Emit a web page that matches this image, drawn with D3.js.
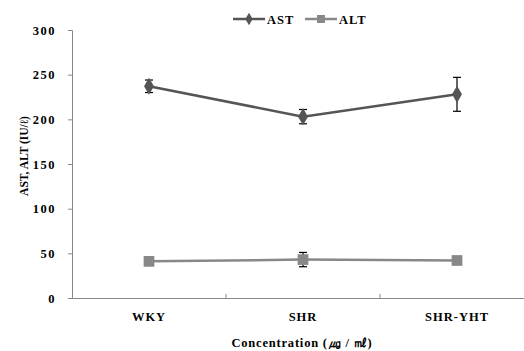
<!DOCTYPE html>
<html><head><meta charset="utf-8">
<script src="https://cdn.jsdelivr.net/npm/d3@7"></script>
<style>body{margin:0;background:#fff}svg{display:block}</style>
</head><body><svg id="c" width="524" height="351"></svg>
<script>
const categories = ["WKY", "SHR", "SHR-YHT"];
const astValues = [237, 203, 228];
const astErrors = [7, 8, 19];
const altValues = [41, 43, 42];
const altErrors = [0, 8, 0];
const yTicks = [0, 50, 100, 150, 200, 250, 300];
const seriesNames = ["AST", "ALT"];

const FONT = '"Liberation Serif", "Times New Roman", Times, serif';
const svg = d3.select("#c");
const x = d3.scaleBand().domain(categories).range([72, 534]);
const y = d3.scaleLinear().domain([0, 300]).range([298, 30]);
const axisColor = "#888";
const styleText = (sel, fs) => sel.style("font-family", FONT).style("font-weight", "bold").style("font-size", (fs || 12.5) + "px").style("fill", "#000");

// y axis
const ya = svg.append("g").attr("transform", "translate(72,0)")
  .call(d3.axisLeft(y).tickValues(yTicks).tickSize(4).tickSizeOuter(4).tickPadding(12));
ya.selectAll("path,line").attr("stroke", axisColor);
styleText(ya.selectAll("text")).attr("letter-spacing", "1.5px");

// x axis
const xa = svg.append("g").attr("transform", "translate(0,298)")
  .call(d3.axisBottom(x).tickSize(0).tickPadding(14));
xa.select("path").attr("stroke", axisColor);
styleText(xa.selectAll("text")).attr("letter-spacing", "1px");
xa.selectAll("line.bnd").data(categories.slice(1)).enter().append("line").attr("class","bnd")
  .attr("x1", d => x(d)).attr("x2", d => x(d)).attr("y1", 0).attr("y2", -4).attr("stroke", axisColor);

// axis titles
styleText(svg.append("text").attr("transform", "translate(28,156) rotate(-90)").attr("text-anchor", "middle")
  .text("AST, ALT (IU/ℓ)"), 11.5);
styleText(svg.append("text").attr("x", 302).attr("y", 347).attr("text-anchor", "middle")
  .attr("letter-spacing","0.8px").text("Concentration (㎍ / ㎖)"));

const cx = d => x(d) + x.bandwidth() / 2;
const series = [
  {name: seriesNames[0], vals: astValues, errs: astErrors, color: "#555", sym: d3.symbolDiamond, size: 85},
  {name: seriesNames[1], vals: altValues, errs: altErrors, color: "#888", sym: d3.symbolSquare, size: 115}
];
const line = d3.line().x((d, i) => cx(categories[i])).y(d => y(d));
series.forEach(s => {
  const g = svg.append("g");
  g.append("path").attr("d", line(s.vals)).attr("fill", "none").attr("stroke", s.color).attr("stroke-width", 2.5);
  s.vals.forEach((v, i) => {
    const e = s.errs[i];
    if (e > 0) {
      const px = cx(categories[i]);
      g.append("line").attr("x1", px).attr("x2", px).attr("y1", y(v + e)).attr("y2", y(v - e)).attr("stroke", "#666").attr("stroke-width", 2);
      [v + e, v - e].forEach(t => g.append("line").attr("x1", px - 4).attr("x2", px + 4).attr("y1", y(t)).attr("y2", y(t)).attr("stroke", "#000").attr("stroke-width", 1.2));
    }
  });
  g.selectAll("path.m").data(s.vals).enter().append("path").attr("class", "m")
    .attr("d", d3.symbol().type(s.sym).size(s.size))
    .attr("transform", (d, i) => `translate(${cx(categories[i])},${y(d)})`)
    .attr("fill", s.color);
});

// legend
const legX = [233, 305];
series.forEach((s, i) => {
  const lx = legX[i];
  svg.append("line").attr("x1", lx).attr("x2", lx + 32).attr("y1", 19).attr("y2", 19).attr("stroke", s.color).attr("stroke-width", 2.5);
  svg.append("path").attr("d", d3.symbol().type(s.sym).size(s.size * 0.55)).attr("transform", `translate(${lx + 16},19)`).attr("fill", s.color);
  styleText(svg.append("text").attr("x", lx + 34).attr("y", 23.5).attr("letter-spacing","1px").text(s.name));
});
</script></body></html>
